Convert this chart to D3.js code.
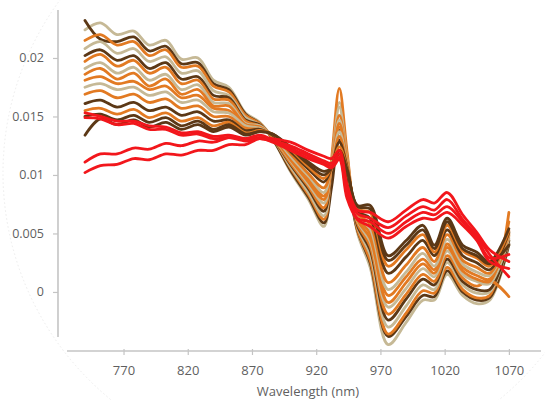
<!DOCTYPE html>
<html><head><meta charset="utf-8">
<script src="https://cdn.jsdelivr.net/npm/d3@7"></script>
<style>html,body{margin:0;padding:0;background:#fff;} svg{display:block;}</style>
</head><body><svg id="c" width="545" height="400"></svg>
<script>
// Wavelength grid (nm)
const wavelengths = [740, 752, 765, 778, 790, 803, 815, 828, 840, 852, 865, 876, 886, 900, 914, 926, 932, 938, 944, 952, 962, 976, 990, 1003, 1012, 1022, 1034, 1045, 1055, 1070];

const tanValues = [
  [0.0224,0.0230,0.0220,0.0223,0.0211,0.0215,0.0199,0.0200,0.0181,0.0175,0.0153,0.0145,0.0131,0.0103,0.0079,0.0056,0.0110,0.0162,0.0117,0.0051,0.0021,-0.0045,-0.0026,-0.0007,-0.0007,0.0015,-0.0003,-0.0010,-0.0007,0.0040],
  [0.0208,0.0214,0.0204,0.0208,0.0197,0.0201,0.0187,0.0189,0.0172,0.0168,0.0149,0.0143,0.0132,0.0107,0.0085,0.0065,0.0109,0.0158,0.0114,0.0056,0.0032,-0.0030,-0.0012,0.0006,0.0002,0.0025,0.0006,-0.0001,0.0000,0.0043],
  [0.0191,0.0196,0.0187,0.0192,0.0181,0.0186,0.0173,0.0177,0.0162,0.0161,0.0144,0.0142,0.0133,0.0112,0.0092,0.0076,0.0108,0.0147,0.0112,0.0061,0.0043,-0.0013,0.0003,0.0020,0.0013,0.0035,0.0015,0.0009,0.0007,0.0046],
  [0.0175,0.0178,0.0173,0.0175,0.0168,0.0171,0.0162,0.0164,0.0154,0.0153,0.0142,0.0140,0.0134,0.0116,0.0099,0.0085,0.0108,0.0137,0.0109,0.0065,0.0054,0.0002,0.0017,0.0033,0.0022,0.0045,0.0024,0.0017,0.0014,0.0049]
];

const darkBrownValues = [
  [0.0232,0.0216,0.0214,0.0218,0.0206,0.0210,0.0195,0.0196,0.0178,0.0173,0.0152,0.0144,0.0131,0.0104,0.0081,0.0059,0.0090,0.0138,0.0100,0.0053,0.0025,-0.0038,-0.0021,-0.0003,-0.0004,0.0018,0.0000,-0.0007,-0.0005,0.0041],
  [0.0202,0.0207,0.0198,0.0202,0.0191,0.0196,0.0182,0.0184,0.0168,0.0166,0.0147,0.0143,0.0132,0.0109,0.0088,0.0069,0.0102,0.0130,0.0105,0.0057,0.0036,-0.0024,-0.0006,0.0011,0.0006,0.0028,0.0009,0.0002,0.0002,0.0044],
  [0.0161,0.0164,0.0158,0.0162,0.0155,0.0158,0.0151,0.0154,0.0146,0.0147,0.0138,0.0139,0.0134,0.0120,0.0105,0.0094,0.0107,0.0128,0.0107,0.0069,0.0063,0.0016,0.0030,0.0044,0.0031,0.0053,0.0031,0.0025,0.0019,0.0051],
  [0.0134,0.0148,0.0143,0.0147,0.0141,0.0145,0.0139,0.0143,0.0137,0.0141,0.0134,0.0137,0.0135,0.0124,0.0111,0.0103,0.0106,0.0118,0.0104,0.0074,0.0074,0.0031,0.0044,0.0057,0.0040,0.0063,0.0040,0.0034,0.0026,0.0054],
  [0.0150,0.0152,0.0147,0.0151,0.0145,0.0149,0.0142,0.0146,0.0139,0.0143,0.0135,0.0137,0.0135,0.0123,0.0109,0.0100,0.0106,0.0121,0.0105,0.0073,0.0071,0.0027,0.0040,0.0053,0.0037,0.0060,0.0037,0.0031,0.0024,0.0040]
];

const orangeValues = [
  [0.0215,0.0220,0.0211,0.0214,0.0202,0.0207,0.0192,0.0193,0.0176,0.0171,0.0151,0.0144,0.0132,0.0106,0.0083,0.0062,0.0114,0.0174,0.0120,0.0054,0.0027,-0.0036,-0.0018,0.0001,-0.0001,0.0021,0.0002,-0.0005,-0.0003,0.0068],
  [0.0197,0.0203,0.0193,0.0198,0.0187,0.0192,0.0178,0.0181,0.0165,0.0164,0.0146,0.0142,0.0132,0.0110,0.0090,0.0072,0.0109,0.0151,0.0113,0.0059,0.0039,-0.0019,-0.0002,0.0015,0.0009,0.0031,0.0012,0.0005,0.0010,-0.0004],
  [0.0186,0.0191,0.0182,0.0187,0.0176,0.0182,0.0169,0.0173,0.0159,0.0159,0.0143,0.0141,0.0133,0.0113,0.0094,0.0079,0.0108,0.0144,0.0111,0.0062,0.0046,-0.0009,0.0008,0.0024,0.0016,0.0038,0.0018,0.0011,0.0009,0.0060],
  [0.0181,0.0184,0.0178,0.0180,0.0173,0.0176,0.0166,0.0168,0.0157,0.0155,0.0143,0.0141,0.0133,0.0115,0.0097,0.0082,0.0108,0.0141,0.0110,0.0064,0.0050,-0.0003,0.0013,0.0028,0.0019,0.0041,0.0021,0.0014,0.0011,0.0048],
  [0.0169,0.0172,0.0166,0.0169,0.0162,0.0165,0.0157,0.0159,0.0150,0.0150,0.0140,0.0139,0.0134,0.0118,0.0101,0.0089,0.0107,0.0133,0.0108,0.0067,0.0058,0.0008,0.0023,0.0038,0.0026,0.0049,0.0027,0.0021,0.0016,0.0050],
  [0.0155,0.0157,0.0152,0.0156,0.0149,0.0153,0.0146,0.0149,0.0142,0.0145,0.0136,0.0138,0.0135,0.0122,0.0107,0.0097,0.0107,0.0124,0.0106,0.0071,0.0068,0.0022,0.0036,0.0049,0.0034,0.0057,0.0035,0.0029,0.0022,0.0052]
];

const redValues = [
  [0.0153,0.0150,0.0146,0.0146,0.0142,0.0141,0.0136,0.0137,0.0133,0.0134,0.0131,0.0132,0.0131,0.0128,0.0121,0.0116,0.0114,0.0121,0.0092,0.0070,0.0068,0.0060,0.0070,0.0079,0.0076,0.0085,0.0066,0.0051,0.0036,0.0026],
  [0.0149,0.0148,0.0143,0.0144,0.0139,0.0139,0.0134,0.0135,0.0131,0.0132,0.0129,0.0131,0.0129,0.0125,0.0118,0.0112,0.0110,0.0118,0.0088,0.0067,0.0063,0.0055,0.0065,0.0073,0.0070,0.0079,0.0062,0.0048,0.0032,0.0013],
  [0.0111,0.0118,0.0118,0.0123,0.0122,0.0127,0.0125,0.0129,0.0128,0.0132,0.0131,0.0134,0.0130,0.0123,0.0116,0.0110,0.0108,0.0115,0.0084,0.0063,0.0060,0.0050,0.0060,0.0068,0.0066,0.0073,0.0060,0.0046,0.0029,0.0032],
  [0.0102,0.0108,0.0109,0.0114,0.0113,0.0118,0.0117,0.0121,0.0121,0.0126,0.0126,0.0131,0.0128,0.0121,0.0114,0.0109,0.0106,0.0113,0.0080,0.0062,0.0056,0.0046,0.0056,0.0063,0.0062,0.0068,0.0057,0.0044,0.0026,0.0020]
];

const xTicks = [770, 820, 870, 920, 970, 1020, 1070];
const yTicks = [0, 0.005, 0.01, 0.015, 0.02];
const yTickLabels = ["0", "0.005", "0.01", "0.015", "0.02"];
const xAxisTitle = "Wavelength (nm)";

const colors = { tan: "#c6b996", brown: "#5b3816", orange: "#e27a24", red: "#f2191b" };

const drawOrder = [
  ["tan",0],["brown",0],["orange",0],["tan",1],["brown",1],["orange",1],["tan",2],["orange",2],
  ["orange",3],["tan",3],["orange",4],["brown",2],["orange",5],["brown",4],["brown",3],
  ["red",0],["red",1],["red",2],["red",3]
];
const groups = { tan: tanValues, brown: darkBrownValues, orange: orangeValues, red: redValues };

const svg = d3.select("#c");
const x = d3.scaleLinear().domain([726, 1095]).range([67, 541]);
const y = d3.scaleLinear().domain([-0.00385, 0.0241]).range([337, 10]);

const defs = svg.append("defs");
defs.append("filter").attr("id","soft").attr("x","-5%").attr("y","-5%").attr("width","110%").attr("height","110%")
  .append("feGaussianBlur").attr("stdDeviation", 0.55);

// faint vignette arc
svg.append("ellipse").attr("cx",305).attr("cy",173).attr("rx",302).attr("ry",296)
  .attr("fill","none").attr("stroke","#ececec").attr("stroke-width",1).attr("stroke-dasharray","1.5,2.5");

const font = "'Open Sans', 'DejaVu Sans', sans-serif";
const txtColor = "#5f5f5f";
const axisColor = "#c4c4c4";

// Y axis
const yAxis = d3.axisLeft(y).tickValues(yTicks).tickSize(5).tickPadding(9)
  .tickFormat((d,i) => yTickLabels[i]);
const gy = svg.append("g").attr("transform","translate(58,0)").call(yAxis);
gy.select(".domain").remove();
gy.append("line").attr("x1",0).attr("x2",0).attr("y1",y.range()[1]).attr("y2",y.range()[0])
  .attr("stroke",axisColor).attr("stroke-width",1.6);
gy.selectAll(".tick line").attr("stroke",axisColor).attr("stroke-width",1.2);
gy.selectAll(".tick text").attr("fill",txtColor).style("font-family",font).style("font-size","12.5px");

// X axis
const xAxis = d3.axisBottom(x).tickValues(xTicks).tickSize(4).tickPadding(11).tickFormat(d3.format("d"));
const gx = svg.append("g").attr("transform","translate(0,351)").call(xAxis);
gx.select(".domain").remove();
gx.append("line").attr("x1",x.range()[0]).attr("x2",x.range()[1]).attr("y1",0).attr("y2",0)
  .attr("stroke",axisColor).attr("stroke-width",1.6);
gx.selectAll(".tick line").attr("stroke",axisColor).attr("stroke-width",1.2).attr("y1",-2);
gx.selectAll(".tick text").attr("fill",txtColor).style("font-family",font).style("font-size","13px");

svg.append("text").attr("x",308).attr("y",396).attr("text-anchor","middle")
  .attr("fill",txtColor).style("font-family",font).style("font-size","13px").text(xAxisTitle);

// Lines
const line = d3.line().x((d,i) => x(wavelengths[i])).y(d => y(d)).curve(d3.curveCatmullRom.alpha(0.5));
const gl = svg.append("g").attr("filter","url(#soft)");
drawOrder.forEach(([g, idx]) => {
  gl.append("path").datum(groups[g][idx]).attr("d", line)
    .attr("fill","none").attr("stroke", colors[g]).attr("stroke-width", 2.8)
    .attr("stroke-linejoin","round").attr("stroke-linecap","round");
});
</script>
</body></html>
